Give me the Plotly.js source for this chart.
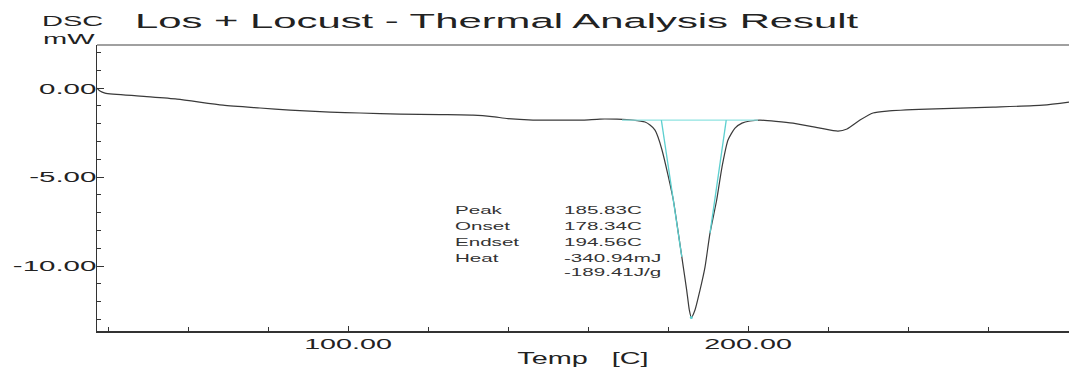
<!DOCTYPE html>
<html>
<head>
<meta charset="utf-8">
<script src="https://cdn.plot.ly/plotly-3.0.1.min.js"></script>
<style>
  html, body { margin: 0; padding: 0; background: #ffffff; }
  #chart { width: 1069px; height: 369px; }
</style>
</head>
<body>
<div id="chart"></div>
<script>
// DSC heat-flow trace, temperature in C, signal in mW
const tempC = [
  37.25, 38.0, 39.25, 48.0, 57.25, 68.75, 78.0, 85.5, 95.5, 103.0,
  113.0, 123.0, 131.25, 136.0, 140.0, 146.25, 152.5, 158.75, 163.0, 167.25,
  171.25, 174.25, 175.5, 176.75, 177.5, 178.5, 180.0, 181.33, 182.58, 183.83,
  184.67, 185.33, 185.83, 186.75, 188.0, 189.25, 190.5, 192.17, 193.5, 195.0,
  196.75, 198.5, 200.5, 203.0, 211.25, 218.0, 222.5, 224.75, 228.0, 231.25,
  234.75, 244.75, 261.25, 273.75, 280.25
];
const dscMw = [
  0.00, -0.17, -0.28, -0.45, -0.62, -0.96, -1.12, -1.24, -1.35, -1.40,
  -1.46, -1.49, -1.52, -1.60, -1.72, -1.80, -1.80, -1.80, -1.74, -1.75,
  -1.80, -1.91, -2.08, -2.36, -2.75, -3.48, -4.89, -6.29, -8.15, -10.06,
  -11.35, -12.47, -12.89, -12.47, -11.35, -10.06, -8.15, -6.29, -4.44, -2.92,
  -2.25, -1.97, -1.85, -1.80, -1.97, -2.25, -2.42, -2.30, -1.80, -1.40,
  -1.29, -1.18, -1.07, -0.96, -0.79
];

// Peak evaluation results
const peakTemp = 185.83;
const peakMw = -12.89;
const onsetTemp = 178.34;
const endsetTemp = 194.56;
const baselineMw = -1.80;
const baselineTemp = [168.5, 202.5];
const onsetLineEnd = [183.45, -9.49];
const endsetLineEnd = [190.5, -8.15];

const resultLabels = ['Peak', 'Onset', 'Endset', 'Heat', ''];
const resultValues = ['185.83C', '178.34C', '194.56C', '-340.94mJ', '-189.41J/g'];
const resultRowMw = [-6.85, -7.75, -8.65, -9.55, -10.31];

// Axis ticks
const xTickVals = [100, 200];
const xTickText = ['100.00', '200.00'];
const yTickVals = [0, -5, -10];
const yTickText = ['0.00', '-5.00', '-10.00'];

const FONT = '"Liberation Sans", Arial, Helvetica, sans-serif';
const INK = '#222222';
const AXIS = '#333333';
const CYAN = '#5ccfcf';

const traces = [
  {
    x: tempC, y: dscMw, type: 'scatter', mode: 'lines',
    line: { color: '#3a3a3a', width: 1.2, shape: 'spline', smoothing: 0.6 },
    hoverinfo: 'skip'
  },
  {
    x: baselineTemp, y: [baselineMw, baselineMw], type: 'scatter', mode: 'lines',
    line: { color: '#8fe3e1', width: 1.3 }, hoverinfo: 'skip'
  },
  {
    x: [onsetTemp, onsetLineEnd[0]], y: [baselineMw, onsetLineEnd[1]],
    type: 'scatter', mode: 'lines',
    line: { color: CYAN, width: 1.3 }, hoverinfo: 'skip'
  },
  {
    x: [endsetTemp, endsetLineEnd[0]], y: [baselineMw, endsetLineEnd[1]],
    type: 'scatter', mode: 'lines',
    line: { color: CYAN, width: 1.3 }, hoverinfo: 'skip'
  },
  {
    x: [peakTemp], y: [peakMw], type: 'scatter', mode: 'markers',
    marker: { color: CYAN, size: 3 }, hoverinfo: 'skip'
  }
];

const annotations = [];
resultLabels.forEach((t, i) => {
  if (t) {
    annotations.push({
      x: 126.25, y: resultRowMw[i], xref: 'x', yref: 'y',
      text: t, showarrow: false, xanchor: 'left', yanchor: 'middle',
      font: { family: FONT, size: 11, color: '#333333' }
    });
  }
  annotations.push({
    x: 153.5, y: resultRowMw[i], xref: 'x', yref: 'y',
    text: resultValues[i], showarrow: false, xanchor: 'left', yanchor: 'middle',
    font: { family: FONT, size: 11, color: '#333333' }
  });
});
// y-axis unit label, stacked in the corner
annotations.push({
  x: -0.0586, y: 1.085, xref: 'paper', yref: 'paper',
  text: 'DSC', showarrow: false, xanchor: 'left', yanchor: 'middle',
  font: { family: FONT, size: 15.5, color: INK }
});
annotations.push({
  x: -0.0576, y: 1.024, xref: 'paper', yref: 'paper',
  text: 'mW', showarrow: false, xanchor: 'left', yanchor: 'middle',
  font: { family: FONT, size: 15.5, color: INK }
});

const layout = {
  width: 1069, height: 369,
  margin: { l: 97, r: 0, t: 45, b: 38, pad: 0 },
  paper_bgcolor: '#ffffff', plot_bgcolor: '#ffffff',
  showlegend: false,
  font: { family: FONT, color: INK },
  title: {
    text: 'Los + Locust - Thermal Analysis Result',
    font: { family: FONT, size: 20.5, color: INK },
    xref: 'paper', x: 0.039, xanchor: 'left',
    yref: 'container', y: 0.943, yanchor: 'middle'
  },
  xaxis: {
    range: [37.25, 280.25],
    tickmode: 'array', tickvals: xTickVals, ticktext: xTickText,
    ticks: 'inside', ticklen: 5, tickwidth: 1, tickcolor: AXIS,
    minor: { tickmode: 'linear', tick0: 0, dtick: 20, ticks: 'inside', ticklen: 4, tickwidth: 1, tickcolor: AXIS, showgrid: false },
    showline: true, linecolor: AXIS, linewidth: 1.5,
    showgrid: false, zeroline: false,
    tickfont: { family: FONT, size: 15.5, color: INK },
    ticklabelstandoff: -2,
    title: { text: 'Temp\u00a0\u00a0\u00a0[C]', font: { family: FONT, size: 16, color: INK }, standoff: 1 }
  },
  yaxis: {
    range: [-13.65, 2.42],
    tickmode: 'array', tickvals: yTickVals, ticktext: yTickText,
    ticks: 'inside', ticklen: 7, tickwidth: 1, tickcolor: AXIS,
    minor: { tickmode: 'linear', tick0: 0, dtick: 1, ticks: 'inside', ticklen: 4, tickwidth: 1, tickcolor: AXIS, showgrid: false },
    showline: true, linecolor: AXIS, linewidth: 1.5,
    showgrid: false, zeroline: false,
    tickfont: { family: FONT, size: 15.5, color: INK },
    ticklabelstandoff: -4
  },
  shapes: [
    { type: 'line', xref: 'paper', yref: 'paper', x0: 0, x1: 1, y0: 1, y1: 1,
      line: { color: '#808080', width: 1.5 } }
  ],
  annotations: annotations
};

// Wide instrument-style lettering: stretch each label horizontally,
// keeping its anchor edge in place.
function widenText(gd) {
  const rules = [
    ['.ytick text', 1.9, false],
    ['.xtick text', 1.85, false],
    ['.gtitle', 2.04, false],
    ['.xtitle', 1.8, false],
    ['.annotation-text', 1.87, true]
  ];
  rules.forEach(([sel, factor, pinLeft]) => {
    gd.querySelectorAll(sel).forEach(t => {
      const w = t.getComputedTextLength();
      if (!w) return;
      if (pinLeft) {
        const left = t.getBBox().x;
        t.setAttribute('text-anchor', 'start');
        t.setAttribute('x', left);
        t.querySelectorAll('tspan[x]').forEach(s => s.setAttribute('x', left));
      }
      t.setAttribute('textLength', (w * factor).toFixed(2));
      t.setAttribute('lengthAdjust', 'spacingAndGlyphs');
    });
  });
}

Plotly.newPlot('chart', traces, layout, { displayModeBar: false, staticPlot: true })
  .then(widenText);
</script>
</body>
</html>
